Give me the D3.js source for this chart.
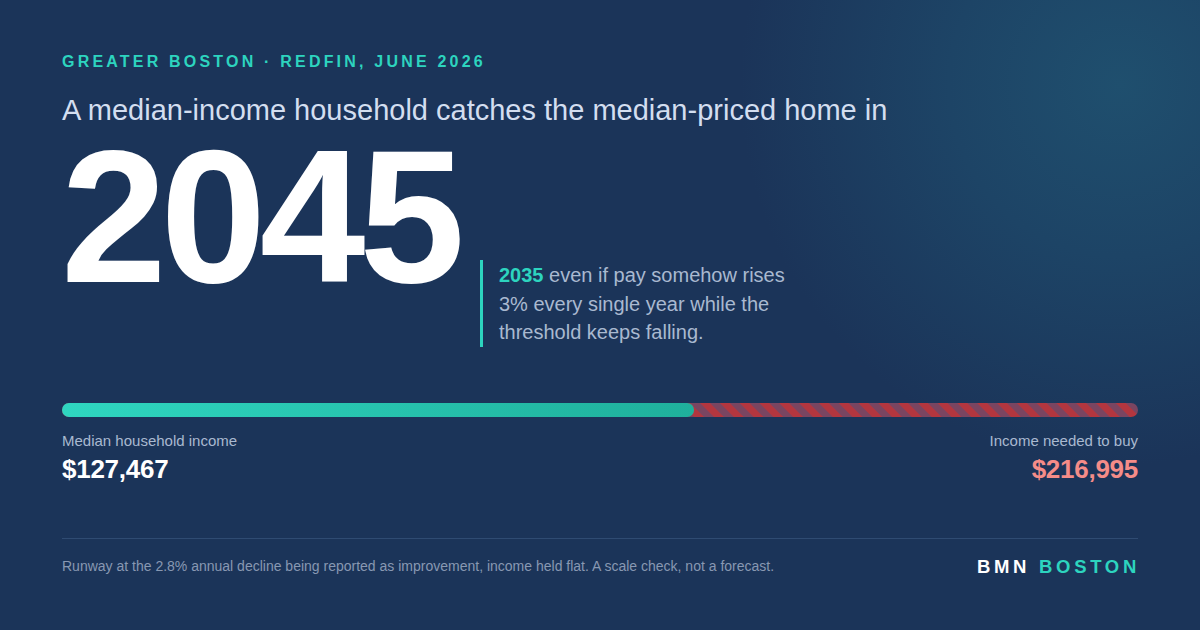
<!DOCTYPE html>
<html>
<head>
<meta charset="utf-8">
<script src="https://cdn.jsdelivr.net/npm/d3@7"></script>
<style>
  body { margin: 0; background: #1b3459; }
  svg { display: block; font-family: "Liberation Sans", Arial, Helvetica, sans-serif; }
</style>
</head>
<body>
<div id="wrapper"></div>
<script>
const kicker = "GREATER BOSTON · REDFIN, JUNE 2026";
const headline = "A median-income household catches the median-priced home in";
const catchYear = "2045";
const fastYear = "2035";
const calloutLines = [" even if pay somehow rises", "3% every single year while the", "threshold keeps falling."];
const barLabels = ["Median household income", "Income needed to buy"];
const barValues = [127467, 216995];
const footnote = "Runway at the 2.8% annual decline being reported as improvement, income held flat. A scale check, not a forecast.";
const brand = ["BMN", "BOSTON"];

function draw(){
    const parent = d3.select("#wrapper")
    parent.selectAll('*').remove()

    var width = 1200;
    var height = 630;
    var left = 62;
    var right = 1138;

    var svg = parent.append("svg")
        .attr("width", width)
        .attr("height", height)

    var defs = svg.append("defs")

    // soft glow top right
    var glow = defs.append("radialGradient")
        .attr("id", "glow")
        .attr("gradientUnits", "userSpaceOnUse")
        .attr("cx", 1120).attr("cy", 85).attr("r", 380)
    glow.append("stop").attr("offset", "0%").attr("stop-color", "#1f4f6e")
    glow.append("stop").attr("offset", "45%").attr("stop-color", "#1d4466")
    glow.append("stop").attr("offset", "100%").attr("stop-color", "#1b3459")

    var teal = defs.append("linearGradient")
        .attr("id", "teal")
        .attr("x1", "0%").attr("x2", "100%")
    teal.append("stop").attr("offset", "0%").attr("stop-color", "#2fd6c0")
    teal.append("stop").attr("offset", "100%").attr("stop-color", "#1fb09c")

    var stripes = defs.append("pattern")
        .attr("id", "stripes")
        .attr("patternUnits", "userSpaceOnUse")
        .attr("width", 14).attr("height", 14)
        .attr("patternTransform", "rotate(-45)")
    stripes.append("rect").attr("width", 14).attr("height", 14).attr("fill", "#7a4561")
    stripes.append("rect").attr("width", 7).attr("height", 14).attr("fill", "#b3363f")

    svg.append("rect")
        .attr("width", width)
        .attr("height", height)
        .attr("fill", "#1b3459")
    svg.append("rect")
        .attr("width", width)
        .attr("height", height)
        .attr("fill", "url(#glow)")

    // header
    svg.append("text")
        .attr("x", left)
        .attr("y", 67)
        .attr("fill", "#2dd4bf")
        .style("font-size", "16px")
        .style("font-weight", "700")
        .style("letter-spacing", "0.2em")
        .text(kicker)

    svg.append("text")
        .attr("x", left)
        .attr("y", 120)
        .attr("fill", "#d3def0")
        .style("font-size", "29px")
        .text(headline)

    svg.append("text")
        .attr("x", left - 1)
        .attr("y", 282)
        .attr("fill", "#ffffff")
        .style("font-size", "190px")
        .style("font-weight", "700")
        .style("letter-spacing", "-0.033em")
        .text(catchYear)

    // callout
    svg.append("rect")
        .attr("x", 480)
        .attr("y", 260)
        .attr("width", 3)
        .attr("height", 87)
        .attr("fill", "#2dd4bf")

    var callout = svg.append("text")
        .attr("x", 499)
        .attr("y", 282)
        .attr("fill", "#a9b9d0")
        .style("font-size", "20px")
    callout.append("tspan")
        .attr("fill", "#2dd4bf")
        .style("font-weight", "700")
        .text(fastYear)
    callout.append("tspan").text(calloutLines[0])
    calloutLines.slice(1).forEach(function(line){
        callout.append("tspan")
            .attr("x", 499)
            .attr("dy", 28.5)
            .text(line)
    })

    // bar
    var xScaler = d3.scaleLinear()
        .domain([0, d3.max(barValues)])
        .range([left, right])

    var barY = 403;
    var barH = 14;

    svg.append("rect")
        .attr("x", xScaler(0))
        .attr("y", barY)
        .attr("width", xScaler(barValues[1]) - xScaler(0))
        .attr("height", barH)
        .attr("rx", barH/2)
        .attr("fill", "url(#stripes)")

    svg.append("rect")
        .attr("x", xScaler(0))
        .attr("y", barY)
        .attr("width", xScaler(barValues[0]) - xScaler(0))
        .attr("height", barH)
        .attr("rx", barH/2)
        .attr("fill", "url(#teal)")

    var money = d3.format("$,")

    svg.append("text")
        .attr("x", xScaler(0))
        .attr("y", 446)
        .attr("fill", "#a9b9d0")
        .style("font-size", "15px")
        .text(barLabels[0])
    svg.append("text")
        .attr("x", xScaler(barValues[1]))
        .attr("y", 446)
        .attr("text-anchor", "end")
        .attr("fill", "#a9b9d0")
        .style("font-size", "15px")
        .text(barLabels[1])

    svg.append("text")
        .attr("x", xScaler(0))
        .attr("y", 478)
        .attr("fill", "#ffffff")
        .style("font-size", "26px")
        .style("font-weight", "700")
        .style("letter-spacing", "-0.01em")
        .text(money(barValues[0]))
    svg.append("text")
        .attr("x", xScaler(barValues[1]))
        .attr("y", 478)
        .attr("text-anchor", "end")
        .attr("fill", "#f58c88")
        .style("font-size", "26px")
        .style("font-weight", "700")
        .style("letter-spacing", "-0.01em")
        .text(money(barValues[1]))

    // footer
    svg.append("line")
        .attr("x1", left).attr("x2", right)
        .attr("y1", 538.5).attr("y2", 538.5)
        .attr("stroke", "#2f4b72")
        .attr("stroke-width", 1)

    svg.append("text")
        .attr("x", left)
        .attr("y", 571)
        .attr("fill", "#8898b2")
        .style("font-size", "14px")
        .text(footnote)

    var mark = svg.append("text")
        .attr("x", right + 2)
        .attr("y", 573)
        .attr("text-anchor", "end")
        .style("font-size", "18.5px")
        .style("font-weight", "700")
        .style("letter-spacing", "0.2em")
    mark.append("tspan").attr("fill", "#ffffff").text(brand[0] + " ")
    mark.append("tspan").attr("fill", "#2dd4bf").text(brand[1])
}
draw()
</script>
</body>
</html>
